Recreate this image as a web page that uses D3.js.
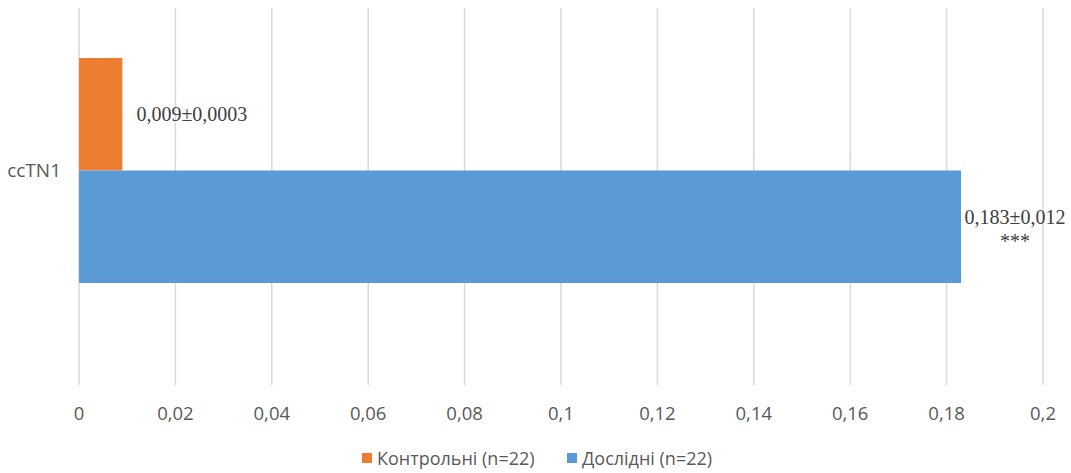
<!DOCTYPE html>
<html>
<head>
<meta charset="utf-8">
<script src="https://cdn.jsdelivr.net/npm/d3@7"></script>
<style>
  body { margin: 0; background: #fff; }
</style>
</head>
<body>
<div id="chart"></div>
<script>
// data
const categories = ["ccTN1"];
const seriesNames = ["Контрольні (n=22)", "Дослідні (n=22)"];
const seriesColors = ["#ED7D31", "#5B9BD5"];
const controlValues = [0.009];
const experimentValues = [0.183];
const valueLabels = [["0,009±0,0003"], ["0,183±0,012", "***"]];
const xTicks = [0, 0.02, 0.04, 0.06, 0.08, 0.1, 0.12, 0.14, 0.16, 0.18, 0.2];

const width = 1071, height = 473;
const svg = d3.select("#chart").append("svg")
  .attr("width", width)
  .attr("height", height);

const x = d3.scaleLinear().domain([0, 0.2]).range([79, 1043]);
const y = d3.scaleBand().domain(categories).range([58, 283]);
const ySeries = d3.scaleBand().domain([0, 1]).range([0, y.bandwidth()]);

// gridlines
svg.append("g")
  .selectAll("line")
  .data(xTicks)
  .enter()
  .append("line")
  .attr("x1", d => x(d))
  .attr("x2", d => x(d))
  .attr("y1", 8)
  .attr("y2", 385)
  .attr("stroke", "#d9d9d9")
  .attr("stroke-width", 1.5);

// x axis labels
const fmt = d => String(d).replace(".", ",");
svg.append("g")
  .selectAll("text")
  .data(xTicks)
  .enter()
  .append("text")
  .attr("x", d => x(d))
  .attr("y", 420)
  .attr("text-anchor", "middle")
  .attr("font-family", "Open Sans, sans-serif")
  .attr("font-size", "18.5px")
  .attr("fill", "#595959")
  .text(fmt);

// category label
svg.append("text")
  .attr("x", 61)
  .attr("y", y(categories[0]) + y.bandwidth() / 2 + 6)
  .attr("text-anchor", "end")
  .attr("font-family", "Open Sans, sans-serif")
  .attr("font-size", "19px")
  .attr("fill", "#595959")
  .text(categories[0]);

// bars
const series = [controlValues, experimentValues];
series.forEach((vals, si) => {
  svg.append("g")
    .selectAll("rect")
    .data(vals)
    .enter()
    .append("rect")
    .attr("x", x(0))
    .attr("y", (d, i) => y(categories[i]) + ySeries(si))
    .attr("width", d => x(d) - x(0))
    .attr("height", ySeries.bandwidth())
    .attr("fill", seriesColors[si]);
});

// value labels
const c0 = categories[0];
svg.append("text")
  .attr("x", x(controlValues[0]) + 14)
  .attr("y", y(c0) + ySeries(0) + ySeries.bandwidth() / 2 + 7)
  .attr("font-family", "Liberation Serif, serif")
  .attr("font-size", "20px")
  .attr("fill", "#404040")
  .text(valueLabels[0][0]);

const lbl = svg.append("text")
  .attr("text-anchor", "middle")
  .attr("font-family", "Liberation Serif, serif")
  .attr("font-size", "20px")
  .attr("fill", "#404040");
const lx = x(experimentValues[0]) + 54;
const ly = y(c0) + ySeries(1) + 53;
lbl.append("tspan").attr("x", lx).attr("y", ly).text(valueLabels[1][0]);
lbl.append("tspan").attr("x", lx).attr("y", ly + 24).text(valueLabels[1][1]);

// legend
const legendX = [362, 567];
const legend = svg.append("g")
  .selectAll("g")
  .data(seriesNames)
  .enter()
  .append("g")
  .attr("transform", (d, i) => `translate(${legendX[i]}, 458)`);

legend.append("rect")
  .attr("x", 0)
  .attr("y", -5)
  .attr("width", 10)
  .attr("height", 10)
  .attr("fill", (d, i) => seriesColors[i]);

legend.append("text")
  .attr("x", 15)
  .attr("y", 6.5)
  .attr("font-family", "Open Sans, sans-serif")
  .attr("font-size", "18px")
  .attr("fill", "#595959")
  .text(d => d);
</script>
</body>
</html>
